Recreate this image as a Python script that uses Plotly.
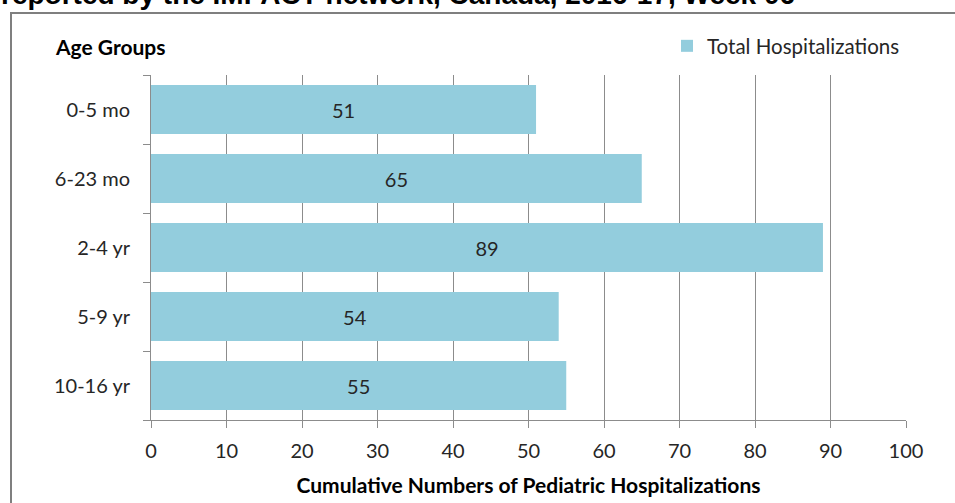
import plotly.graph_objects as go

categories = ["0-5 mo", "6-23 mo", "2-4 yr", "5-9 yr", "10-16 yr"]
values = [51, 65, 89, 54, 55]
x_ticks = [0, 10, 20, 30, 40, 50, 60, 70, 80, 90, 100]
series_name = "Total Hospitalizations"
title_text = "reported by the IMPACT network, Canada, 2016-17, Week 06"
y_title = "Age Groups"
x_title = "Cumulative Numbers of Pediatric Hospitalizations"

W, H = 955, 503
L, R, T, B = 151, 49, 75, 83
pw, ph = W - L - R, H - T - B

def px(x):
    return (x - L) / pw

def py(y):
    return (H - B - y) / ph

FONT = "Lato, Open Sans, sans-serif"
BAR = "#93CDDD"
TXT = "#262626"
GRID = "#8C8C8C"

fig = go.Figure()
fig.add_trace(go.Bar(
    x=values, y=categories, orientation="h", name=series_name,
    marker=dict(color=BAR, line=dict(width=0)),
    width=0.71,
    text=[str(v) for v in values], textposition="inside",
    insidetextanchor="middle",
    textfont=dict(family=FONT, size=20, color=TXT),
    showlegend=True,
))

fig.update_layout(
    width=W, height=H,
    margin=dict(l=L, r=R, t=T, b=B, autoexpand=False),
    paper_bgcolor="white", plot_bgcolor="white",
    font=dict(family=FONT, size=20, color=TXT),
    showlegend=True,
    legend=dict(x=px(667), y=py(46), xanchor="left", yanchor="middle",
                font=dict(family=FONT, size=20.5, color=TXT),
                bgcolor="rgba(0,0,0,0)", itemwidth=30),
    xaxis=dict(range=[0, 100], tickvals=x_ticks, showgrid=True, gridcolor=GRID,
               gridwidth=1, showline=True, linecolor=GRID, linewidth=1,
               ticks="outside", ticklen=7, tickcolor=GRID, zeroline=False,
               tickfont=dict(family=FONT, size=20, color=TXT),
               ticklabelstandoff=6,
               title=dict(text="<b>" + x_title + "</b>",
                          font=dict(family=FONT, size=21, color="#000"),
                          standoff=17),
               fixedrange=True),
    yaxis=dict(categoryorder="array", categoryarray=categories[::-1],
               showline=True, linecolor=GRID, linewidth=1, ticks="outside",
               ticklen=7, tickcolor=GRID, tickson="boundaries", showgrid=False,
               tickfont=dict(family=FONT, size=20, color=TXT),
               ticklabelstandoff=16, fixedrange=True),
    bargap=0.29,
)

# chart border (Excel chart area frame)
fig.add_shape(type="rect", xref="paper", yref="paper",
              x0=px(11), x1=px(958), y0=py(508), y1=py(13),
              line=dict(color="#7F7F7F", width=2), fillcolor="rgba(0,0,0,0)",
              layer="below")

fig.add_annotation(text="<b>" + title_text + "</b>", xref="paper", yref="paper",
                   x=px(-1), y=py(10), xanchor="left", yanchor="bottom",
                   yshift=-2,
                   showarrow=False,
                   font=dict(family="Liberation Sans, Arial", size=28, color="#000"))

fig.add_annotation(text="<b>" + y_title + "</b>", xref="paper", yref="paper",
                   x=px(53), y=py(47), xanchor="left", yanchor="middle",
                   showarrow=False,
                   font=dict(family=FONT, size=21, color="#000"))

fig.write_html("out.html", config={"displayModeBar": False},
               post_script="document.body.style.margin='0';")
